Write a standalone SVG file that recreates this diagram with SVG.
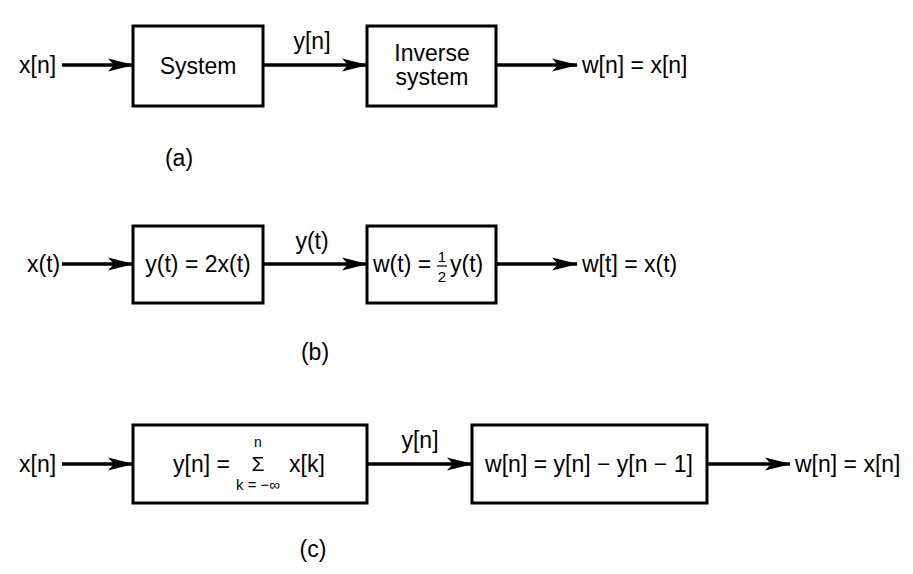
<svg xmlns="http://www.w3.org/2000/svg" width="913" height="574" viewBox="0 0 913 574">
<defs>
<marker id="ah" markerWidth="26" markerHeight="14" refX="25" refY="7" orient="auto" markerUnits="userSpaceOnUse">
<path d="M0,0.5 L26,7 L0,13.5 L6,7 Z" fill="#000"/>
</marker>
<style>
text{font-family:"Liberation Sans",Arial,sans-serif;font-size:23px;fill:#000}
.sm{font-size:15px}
.box{fill:#fff;stroke:#000;stroke-width:3}
.wire{stroke:#000;stroke-width:3.5;fill:none;marker-end:url(#ah)}
.mid{text-anchor:middle}
</style>
</defs>
<rect width="913" height="574" fill="#fff"/>
<g id="connectors">
<line class="wire" x1="62" y1="65" x2="133" y2="65"/>
<line class="wire" x1="263" y1="65" x2="367" y2="65"/>
<line class="wire" x1="496" y1="65" x2="577" y2="65"/>
<line class="wire" x1="62" y1="264" x2="133" y2="264"/>
<line class="wire" x1="263" y1="264" x2="367" y2="264"/>
<line class="wire" x1="496" y1="264" x2="577" y2="264"/>
<line class="wire" x1="62" y1="464" x2="133" y2="464"/>
<line class="wire" x1="367" y1="464" x2="472" y2="464"/>
<line class="wire" x1="707" y1="464" x2="790" y2="464"/>
</g>
<g id="a-labels">
<text x="19" y="73">x[n]</text>
<text class="mid" x="312" y="49">y[n]</text>
<text x="582" y="73">w[n] = x[n]</text>
<text class="mid" x="179" y="166">(a)</text>
</g>
<g id="a-system">
<rect class="box" x="133" y="26" width="130" height="80"/>
<text class="mid" x="198" y="74">System</text>
</g>
<g id="a-inverse">
<rect class="box" x="367" y="26" width="129" height="80"/>
<text class="mid" x="432" y="61">Inverse</text>
<text class="mid" x="432" y="85">system</text>
</g>
<g id="b-labels">
<text x="27" y="272">x(t)</text>
<text class="mid" x="312" y="249">y(t)</text>
<text x="582" y="272">w[t] = x(t)</text>
<text class="mid" x="315" y="360">(b)</text>
</g>
<g id="b-system">
<rect class="box" x="133" y="226" width="130" height="77"/>
<text class="mid" x="198" y="272">y(t) = 2x(t)</text>
</g>
<g id="b-inverse">
<rect class="box" x="367" y="226" width="129" height="77"/>
<text x="373" y="272">w(t) =</text>
<text class="sm mid" x="442" y="262">1</text>
<line x1="437" y1="266" x2="447" y2="266" stroke="#000" stroke-width="1.2"/>
<text class="sm mid" x="442" y="282">2</text>
<text x="450" y="272">y(t)</text>
</g>
<g id="c-labels">
<text x="19" y="472">x[n]</text>
<text class="mid" x="420" y="448">y[n]</text>
<text x="795" y="472">w[n] = x[n]</text>
<text class="mid" x="313" y="557">(c)</text>
</g>
<g id="c-accum">
<rect class="box" x="133" y="425" width="234" height="78"/>
<text x="173" y="472">y[n] =</text>
<text class="mid" x="258" y="471" style="font-size:21px">Σ</text>
<text class="mid" x="258" y="447" style="font-size:14px">n</text>
<text x="289" y="472">x[k]</text>
<text class="sm mid" x="258" y="490">k = −∞</text>
</g>
<g id="c-diff">
<rect class="box" x="472" y="425" width="235" height="78"/>
<text class="mid" x="589" y="472">w[n] = y[n] − y[n − 1]</text>
</g>
</svg>
